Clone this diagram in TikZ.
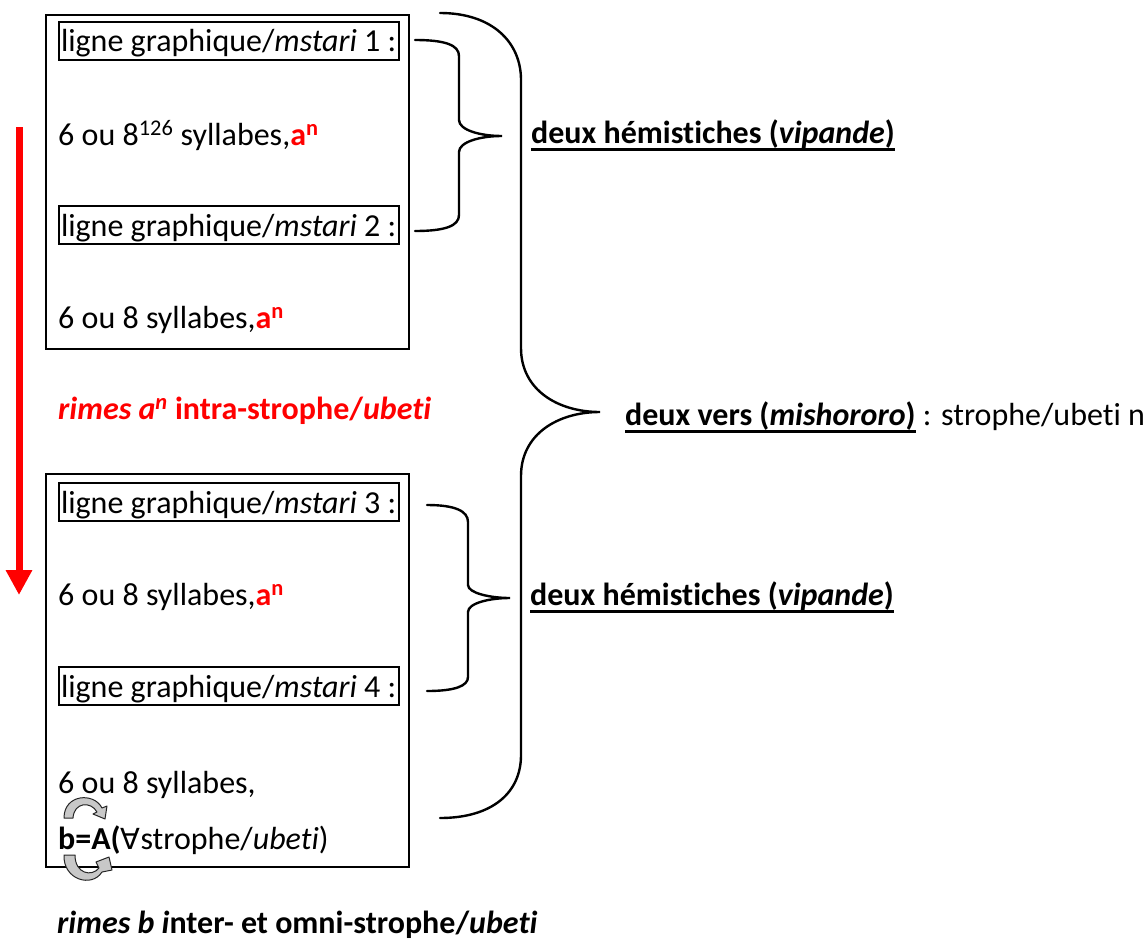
\documentclass[tikz,border=0pt]{standalone}
\usepackage{fontspec}
\setmainfont{Carlito}[RawFeature={-liga;-clig}]
\newfontfamily\symfont{DejaVu Sans}
\usetikzlibrary{arrows.meta}
\definecolor{rd}{RGB}{255,0,0}
\definecolor{arrgray}{RGB}{200,200,200}
\newcommand\ulx[1]{\setbox0\hbox{#1}\rlap{\rule[-7.5pt]{\wd0}{2.4pt}}\box0\relax}
\begin{document}
\begin{tikzpicture}[x=1pt,y=-1pt,
  font=\fontsize{32}{38}\selectfont,
  txt/.style={anchor=base west, inner sep=0pt},
  lgbox/.style={draw, line width=2pt, anchor=base west, inner xsep=2.5pt, inner ysep=0pt, text height=30pt, text depth=8pt},
  outerbox/.style={draw, line width=2.4pt, anchor=north west, inner sep=0pt},
  brace/.style={draw, line width=2.4pt, line cap=round},
  curvarr/.style={fill=arrgray, draw=black!85, line width=1pt, line join=round}]
\useasboundingbox (0,0) rectangle (1147,947);
\clip (0,0) rectangle (1147,947);
\fill[white] (0,0) rectangle (1147,947);

% outer boxes
\node[outerbox, minimum width=363pt, minimum height=334pt] (stropheA) at (45,14) {};
\node[outerbox, minimum width=363pt, minimum height=393pt] (stropheB) at (45,473) {};

% line boxes
\node[lgbox] (l1) at (57.5,52) {ligne graphique/\textit{mstari} 1 :};
\node[lgbox] (l2) at (57.5,236) {ligne graphique/\textit{mstari} 2 :};
\node[lgbox] (l3) at (57.5,513) {ligne graphique/\textit{mstari} 3 :};
\node[lgbox] (l4) at (57.5,697) {ligne graphique/\textit{mstari} 4 :};

% syllable lines
\node[txt] (s1) at (58,145) {6 ou 8\textsuperscript{126} syllabes,\textcolor{rd}{\textbf{a\textsuperscript{n}}}};
\node[txt] (s2) at (58,328) {6 ou 8 syllabes,\textcolor{rd}{\textbf{a\textsuperscript{n}}}};
\node[txt] (s3) at (58,605) {6 ou 8 syllabes,\textcolor{rd}{\textbf{a\textsuperscript{n}}}};
\node[txt] (s4) at (58,793) {6 ou 8 syllabes,};
\node[txt] (bA) at (58,849) {\textbf{b=A(}{\symfont\fontsize{29}{34}\selectfont ∀}strophe/\textit{ubeti})};

% rhyme labels
\node[txt, text=rd] (rA) at (58,419) {\textbf{\textit{rimes a\textsuperscript{n}} intra-strophe/\textit{ubeti}}};
\node[txt] (rB) at (57,933) {\textbf{\textit{rimes b i}nter- et omni-strophe/\textit{ubeti}}};

% red arrow
\coordinate (ra) at (19,127);
\coordinate (rb) at (19,595);
\draw[rd, line width=7pt, -{Triangle[length=25pt,width=25pt]}] (ra) -- (rb);

% curved arrows
\path[curvarr] (64,818) .. controls (64,794) and (94,792) .. (102,808) -- (107,806) -- (105,819) -- (93,814) -- (97,812) .. controls (91,801) and (74,802) .. (73,818) -- cycle;
\path[curvarr] (64,855) .. controls (63,880) and (92,888) .. (102,872) -- (112,870) -- (109,857) -- (96,862) -- (99,868) .. controls (92,877) and (75,874) .. (75,855) -- cycle;

% small braces
\draw[brace] (415,40) .. controls (445,40) and (459,45) .. (459,56) -- (459,120) .. controls (459,130) and (480,136) .. (502,136) .. controls (480,136) and (459,142) .. (459,152) -- (459,215) .. controls (459,226) and (445,231) .. (415,231);
\draw[brace] (427,505) .. controls (455,505) and (468,511) .. (468,522) -- (468,585) .. controls (468,593) and (490,598) .. (510,598) .. controls (490,598) and (468,603) .. (468,612) -- (468,677) .. controls (468,686) and (455,691) .. (427,691);
% big brace
\draw[brace] (440,13) .. controls (492,13) and (521,42) .. (521,80) -- (521,348) .. controls (521,390) and (558,412) .. (600,412) .. controls (558,412) and (521,434) .. (521,476) -- (521,755) .. controls (521,793) and (492,818) .. (440,818);

% labels
\node[txt] (h1) at (531,143) {\ulx{\textbf{deux hémistiches (\textit{vipande})}}};
\node[txt] (h2) at (530,605) {\ulx{\textbf{deux hémistiches (\textit{vipande})}}};
\node[txt] (vers) at (625,425) {\ulx{\textbf{deux vers (\textit{mishororo})}} : strophe/ubeti n};
\end{tikzpicture}
\end{document}
